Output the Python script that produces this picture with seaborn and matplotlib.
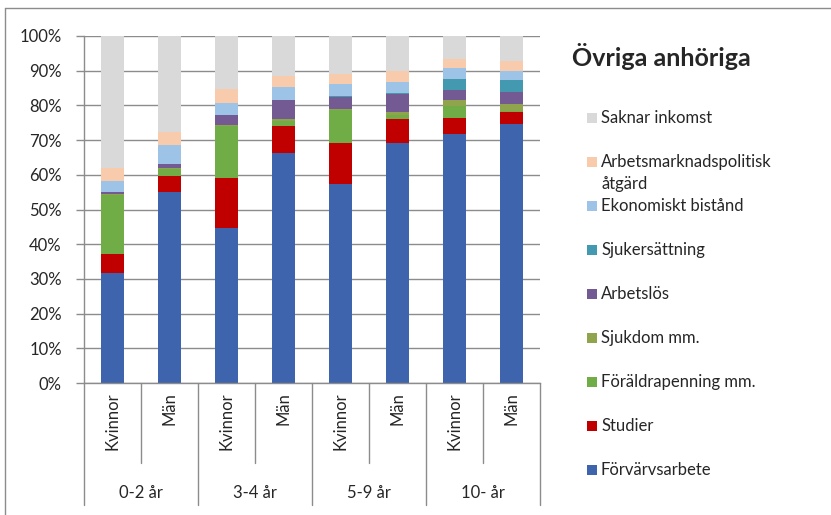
import matplotlib
matplotlib.use("Agg")
import matplotlib.pyplot as plt
from matplotlib.lines import Line2D
from matplotlib.patches import Rectangle
import seaborn as sns
import pandas as pd
import numpy as np

groups = ["0-2 år", "3-4 år", "5-9 år", "10- år"]
sexes = ["Kvinnor", "Män"]

series_names = ["Förvärvsarbete", "Studier", "Föräldrapenning mm.", "Sjukdom mm.",
                "Arbetslös", "Sjukersättning", "Ekonomiskt bistånd",
                "Arbetsmarknadspolitisk\nåtgärd", "Saknar inkomst"]

forvarvsarbete = [31.7, 55.1, 44.8, 66.4, 57.4, 69.2, 71.9, 74.7]
studier        = [5.5, 4.6, 14.4, 7.8, 11.8, 6.9, 4.6, 3.4]
foraldrapenning = [17.1, 2.0, 14.9, 1.2, 9.6, 1.1, 3.2, 0.3]
sjukdom        = [0.2, 0.4, 0.3, 0.6, 0.3, 0.8, 2.0, 1.9]
arbetslos      = [0.4, 1.1, 2.8, 5.7, 3.4, 5.2, 2.7, 3.5]
sjukersattning = [0.0, 0.0, 0.0, 0.0, 0.1, 0.3, 3.3, 3.4]
ekonomiskt     = [3.2, 5.4, 3.6, 3.6, 3.6, 3.2, 3.0, 2.6]
arbetsmarknad  = [3.9, 3.8, 4.0, 3.3, 2.8, 3.1, 2.8, 3.0]
saknar         = [38.0, 27.6, 15.2, 11.4, 11.0, 10.2, 6.5, 7.2]

colors = ["#3D64AD", "#C00000", "#70AD47", "#8FA44C", "#735A92",
          "#4299B0", "#9DC3E6", "#F8CBAD", "#D9D9D9"]

series = [forvarvsarbete, studier, foraldrapenning, sjukdom, arbetslos,
          sjukersattning, ekonomiskt, arbetsmarknad, saknar]

keys = [f"{g}|{s}" for g in groups for s in sexes]
df = pd.DataFrame({name: vals for name, vals in zip(series_names, series)}, index=keys)
cum = df.cumsum(axis=1)

sns.set_style("white")
plt.rcParams['font.family'] = ['Lato', 'DejaVu Sans']

FS = 12
W, H = 831, 515
fig = plt.figure(figsize=(W / 100, H / 100), dpi=100)
L, R, T, B = 84, 540, 36, 383
ax = fig.add_axes([L / W, 1 - B / H, (R - L) / W, (B - T) / H])

for name, col in reversed(list(zip(series_names, colors))):
    sns.barplot(x=keys, y=cum[name].values, order=keys, color=col, width=0.4,
                ax=ax, saturation=1, edgecolor="none", linewidth=0)

ax.set_xlim(-0.5, 7.5)
ax.set_ylim(0, 100)
ax.set_yticks(np.arange(0, 101, 10))
ax.set_yticklabels([f"{v}%" for v in range(0, 101, 10)], fontsize=FS)
ax.yaxis.grid(True, color="#8C8C8C", linewidth=1)
ax.set_axisbelow(True)
ax.tick_params(axis="y", length=6, width=1, color="#8C8C8C", direction="out", left=True, pad=10)
ax.set_xticks([])
ax.set_xlabel("")
for s in ["top", "right"]:
    ax.spines[s].set_visible(False)
for s in ["left", "bottom"]:
    ax.spines[s].set_color("#8C8C8C")
    ax.spines[s].set_linewidth(1)

def fy(py):
    return 1 - py / H

trans = ax.get_xaxis_transform()
for i, k in enumerate(keys):
    sex = k.split("|")[1]
    ax.text(i, -9 / (B - T), sex, rotation=90, ha="center", va="top",
            fontsize=FS, transform=trans, clip_on=False)
for gi, g in enumerate(groups):
    ax.text(gi * 2 + 0.5, -(493 - B) / (B - T), g, ha="center", va="center",
            fontsize=FS, transform=trans, clip_on=False)
for xb in np.arange(-0.5, 8, 1.0):
    outer = (int(xb + 0.5) % 2 == 0)
    yend = 505 if outer else 463
    ax.add_line(Line2D([xb, xb], [0, -(yend - B) / (B - T)], transform=trans,
                       color="#8C8C8C", linewidth=1, clip_on=False))

# title
fig.text(572 / W, fy(56), "Övriga anhöriga", fontsize=18, fontweight="bold",
         ha="left", va="center")

# legend (top to bottom)
leg_y = [118, 162, 206, 250, 294, 338, 382, 426, 470]
for name, col, y in zip(reversed(series_names), reversed(colors), leg_y):
    fig.add_artist(Rectangle((587 / W, fy(y + 5)), 10 / W, 10 / H,
                             facecolor=col, edgecolor="none", transform=fig.transFigure))
    fig.text(601 / W, fy(y), name.split("\n")[0], fontsize=FS, ha="left", va="center")
    if "\n" in name:
        fig.text(601 / W, fy(y + 22), name.split("\n")[1], fontsize=FS, ha="left", va="center")

# chart frame (top and left visible)
fig.add_artist(Line2D([5 / W, 1], [fy(8), fy(8)], transform=fig.transFigure,
                      color="#8C8C8C", linewidth=1))
fig.add_artist(Line2D([5 / W, 5 / W], [fy(8), 0], transform=fig.transFigure,
                      color="#8C8C8C", linewidth=1))

fig.savefig("out.png", dpi=100)
